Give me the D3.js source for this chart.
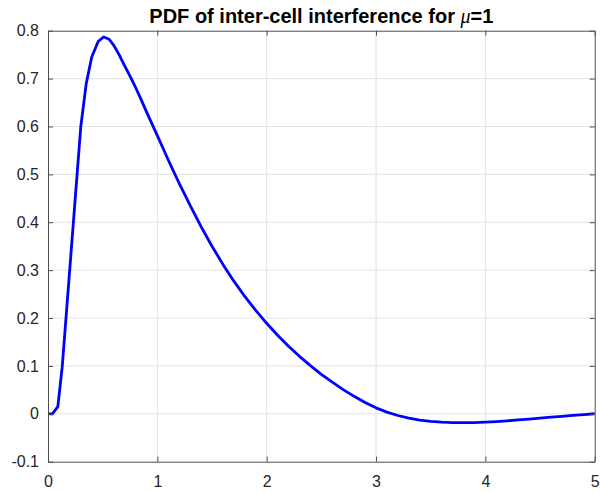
<!DOCTYPE html>
<html>
<head>
<meta charset="utf-8">
<script src="https://cdn.jsdelivr.net/npm/d3@7"></script>
<style>
  html, body { margin: 0; padding: 0; background: #fff; }
  svg { display: block; }
</style>
</head>
<body>
<svg id="chart" width="600" height="492"></svg>
<script>
// Sampled PDF of the inter-cell interference (mu = 1)
const xValues = [
  0, 0.04, 0.09, 0.13, 0.3, 0.35, 0.4, 0.46, 0.51, 0.56, 0.6, 0.65, 0.7, 0.75,
  0.8, 0.85, 0.9, 0.95, 1.0, 1.05, 1.1, 1.15, 1.2, 1.3, 1.4, 1.5, 1.6, 1.7, 1.8, 1.9, 2.0,
  2.1, 2.2, 2.3, 2.4, 2.5, 2.6, 2.7, 2.8, 2.9, 3.0, 3.1, 3.2, 3.3, 3.4, 3.5,
  3.6, 3.7, 3.8, 3.9, 4.0, 4.1, 4.2, 4.3, 4.4, 4.5, 4.6, 4.7, 4.8, 4.9, 5.0
];
const pdfValues = [
  0, 0, 0.015, 0.098, 0.6, 0.69, 0.745, 0.778, 0.787, 0.782, 0.77, 0.75, 0.727, 0.705,
  0.682, 0.657, 0.631, 0.606, 0.581, 0.5555, 0.530, 0.5055, 0.481, 0.435, 0.391, 0.350, 0.312, 0.277, 0.245, 0.216, 0.189,
  0.164, 0.141, 0.120, 0.1005, 0.0825, 0.066, 0.0505, 0.0365, 0.0237, 0.0125, 0.0035, -0.0035, -0.009, -0.013, -0.0157,
  -0.0174, -0.0183, -0.0186, -0.0183, -0.0175, -0.0162, -0.0146, -0.0128, -0.0109, -0.009, -0.0071, -0.0052, -0.0034, -0.0016, 0.0001
];
const xTicks = [0, 1, 2, 3, 4, 5];
const yTicks = [-0.1, 0, 0.1, 0.2, 0.3, 0.4, 0.5, 0.6, 0.7, 0.8];
const titleText = "PDF of inter-cell interference for ";

const svg = d3.select("#chart");
const margin = { left: 48, right: 5.3, top: 30.7, bottom: 30.3 };
const W = 600, H = 492;
const x = d3.scaleLinear().domain([0, 5]).range([margin.left, W - margin.right]);
const y = d3.scaleLinear().domain([-0.1, 0.8]).range([H - margin.bottom, margin.top]);

const axisColor = "#4d4d4d";
const textColor = "#262626";
const font = "'Liberation Sans', Arial, Helvetica, sans-serif";

// grid
const grid = svg.append("g").attr("stroke", "#e3e3e3").attr("stroke-width", 1);
xTicks.slice(1, -1).forEach(t => {
  grid.append("line").attr("x1", x(t)).attr("x2", x(t))
    .attr("y1", y.range()[1]).attr("y2", y.range()[0]);
});
yTicks.slice(1, -1).forEach(t => {
  grid.append("line").attr("x1", x.range()[0]).attr("x2", x.range()[1])
    .attr("y1", y(t)).attr("y2", y(t));
});

// curve (straight segments between samples)
const data = xValues.map((v, i) => [v, pdfValues[i]]);
svg.append("path")
  .datum(data)
  .attr("fill", "none")
  .attr("stroke", "#0000ff")
  .attr("stroke-width", 2.8)
  .attr("stroke-linejoin", "round")
  .attr("d", d3.line().x(d => x(d[0])).y(d => y(d[1])).curve(d3.curveLinear));

// axes: inward ticks on all four sides
const fmt = d => String(+d.toFixed(1));
function styleAxis(g) {
  g.selectAll(".domain").attr("stroke", axisColor);
  g.selectAll(".tick line").attr("stroke", axisColor);
  g.selectAll("text").attr("fill", textColor).style("font-family", font).style("font-size", "16px");
}
const axBottom = svg.append("g").attr("transform", `translate(0,${y(-0.1)})`)
  .call(d3.axisBottom(x).tickValues(xTicks).tickSizeInner(-5).tickSizeOuter(0).tickPadding(14).tickFormat(fmt));
styleAxis(axBottom);
const axTop = svg.append("g").attr("transform", `translate(0,${y(0.8)})`)
  .call(d3.axisTop(x).tickValues(xTicks).tickSizeInner(-5).tickSizeOuter(0).tickFormat(""));
styleAxis(axTop);
const axLeft = svg.append("g").attr("transform", `translate(${x(0)},0)`)
  .call(d3.axisLeft(y).tickValues(yTicks).tickSizeInner(-5).tickSizeOuter(0).tickPadding(9).tickFormat(fmt));
styleAxis(axLeft);
const axRight = svg.append("g").attr("transform", `translate(${x(5)},0)`)
  .call(d3.axisRight(y).tickValues(yTicks).tickSizeInner(-5).tickSizeOuter(0).tickFormat(""));
styleAxis(axRight);

// title
const title = svg.append("text")
  .attr("x", (x.range()[0] + x.range()[1]) / 2)
  .attr("y", 23)
  .attr("text-anchor", "middle")
  .attr("fill", "#000")
  .style("font-family", font)
  .style("font-size", "20px")
  .style("font-weight", "bold");
title.append("tspan").text(titleText);
title.append("tspan").text("μ").style("font-style", "italic").style("font-weight", "normal")
  .style("font-family", "'Liberation Serif', 'DejaVu Serif', serif");
title.append("tspan").text("=1");
</script>
</body>
</html>
